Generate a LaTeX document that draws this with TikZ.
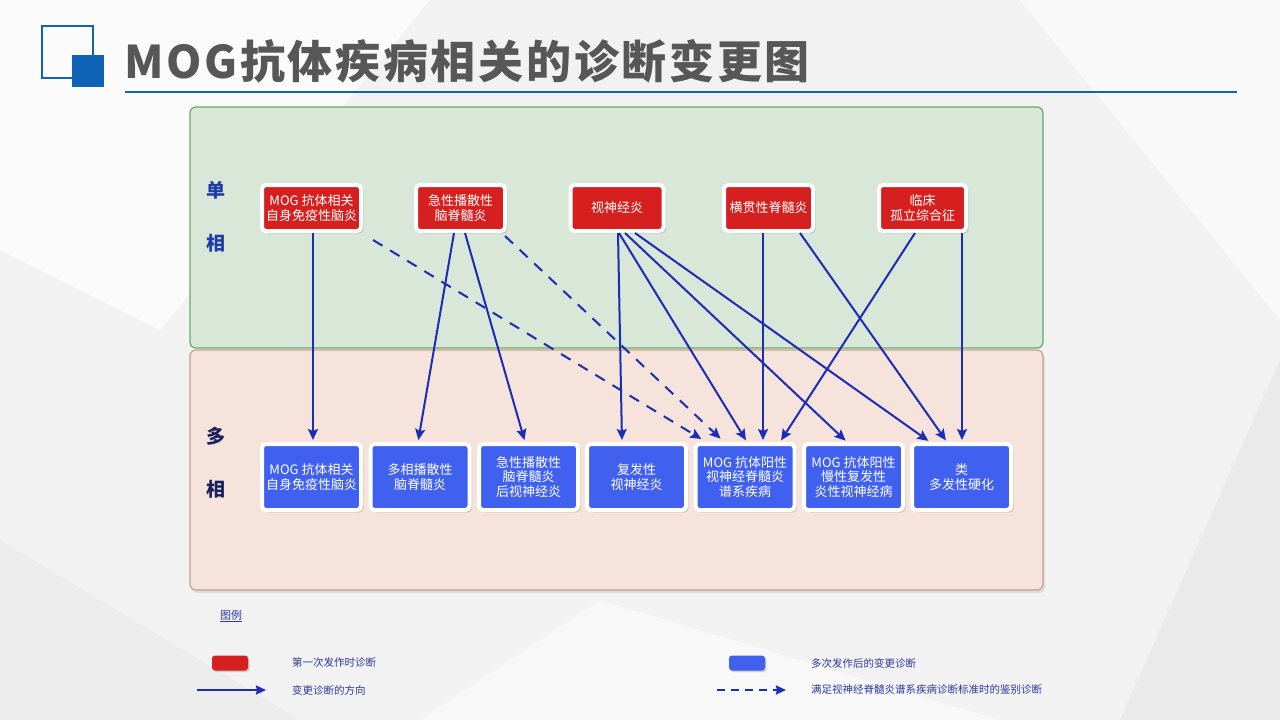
\documentclass[tikz,border=0pt]{standalone}
\usepackage{fontspec}
\setmainfont{Noto Sans CJK SC}
\usetikzlibrary{arrows.meta,shadows,calc}
\definecolor{bgcol}{HTML}{F2F2F2}
\definecolor{titleblue}{HTML}{0F62B5}
\definecolor{titlegray}{HTML}{575757}
\definecolor{greenfill}{HTML}{D8E7D8}
\definecolor{greenborder}{HTML}{62AD62}
\definecolor{pinkfill}{HTML}{F5E3DC}
\definecolor{pinkborder}{HTML}{C99E8C}
\definecolor{boxred}{HTML}{D61F1F}
\definecolor{boxblue}{HTML}{4060EF}
\definecolor{arrowblue}{HTML}{1B2DB4}
\definecolor{sideblue}{HTML}{1E3CAA}
\definecolor{sidenavy}{HTML}{1B1F5E}
\definecolor{legblue}{HTML}{2B3A9E}
\tikzset{
  boxbase/.style={rectangle, rounded corners=4pt, draw=white, line width=4pt,
    text=white, align=center, inner sep=0pt,
    font=\fontsize{13}{15}\selectfont,
    drop shadow={shadow xshift=2.5pt, shadow yshift=-2.5pt, opacity=0.3}},
  redbox/.style={boxbase, fill=boxred, minimum height=46pt},
  bluebox/.style={boxbase, fill=boxblue, minimum width=99pt, minimum height=66pt, font=\fontsize{13}{14.5}\selectfont},
  sidelab/.style={font=\fontsize{19}{21}\selectfont\bfseries, inner sep=0pt},
  arr/.style={draw=arrowblue, line width=2pt, -{Stealth[length=11pt,width=10pt,inset=2pt]}, shorten >=2pt},
  dasharr/.style={arr, dash pattern=on 11pt off 9pt},
  legtext/.style={anchor=west, text=legblue, font=\fontsize{10.5}{12}\selectfont, inner sep=0pt},
  legbox/.style={rectangle, rounded corners=3pt, minimum width=36pt, minimum height=15pt, inner sep=0pt,
    drop shadow={shadow xshift=1.5pt, shadow yshift=-1.5pt, opacity=0.35}},
}
\begin{document}
\begin{tikzpicture}[x=1pt,y=-1pt]
\useasboundingbox (0,0) rectangle (1280,720);
% background
\fill[bgcol] (0,0) rectangle (1280,720);
\fill[white,opacity=0.75] (0,0) -- (430,0) -- (160,330) -- (0,250) -- cycle;
\fill[white,opacity=0.6] (1020,0) -- (1280,0) -- (1280,320) -- cycle;
\fill[white,opacity=0.5] (600,600) -- (1000,720) -- (420,720) -- cycle;
\fill[black,opacity=0.03] (1280,360) -- (1120,720) -- (1280,720) -- cycle;
\fill[black,opacity=0.025] (0,540) -- (300,720) -- (0,720) -- cycle;
% title
\draw[titleblue, line width=2pt] (42,26) rectangle (93,78);
\fill[titleblue] (72,55) rectangle (104,87);
\node[anchor=base west, font=\fontsize{45}{50}\selectfont\bfseries\addfontfeature{LetterSpace=6}, text=titlegray, inner sep=0pt] (title) at (124,78) {MOG抗体疾病相关的诊断变更图};
\draw[titleblue, line width=1.5pt] (125,92) -- (1237,92);
% panels
\draw[greenborder, fill=greenfill, line width=1.2pt, rounded corners=6pt] (190,107) rectangle (1043,348);
\draw[pinkborder, fill=pinkfill, line width=1.2pt, rounded corners=6pt,
  drop shadow={shadow xshift=2pt, shadow yshift=-3pt, opacity=0.2}] (190,350) rectangle (1043,590);
% side labels
\node[sidelab, text=sideblue] (s1) at (216,190) {单};
\node[sidelab, text=sideblue] (s2) at (216,243) {相};
\node[sidelab, text=sidenavy] (s3) at (216,436) {多};
\node[sidelab, text=sidenavy] (s4) at (216,489) {相};
% top row
\node[redbox, minimum width=99pt] (r1) at (311.5,208) {MOG 抗体相关\\自身免疫性脑炎};
\node[redbox, minimum width=89pt] (r2) at (460.5,208) {急性播散性\\脑脊髓炎};
\node[redbox, minimum width=93pt] (r3) at (617,208) {视神经炎};
\node[redbox, minimum width=89pt] (r4) at (768.5,208) {横贯性脊髓炎};
\node[redbox, minimum width=87pt] (r5) at (922.5,208) {临床\\孤立综合征};
% bottom row
\node[bluebox] (b1) at (311.5,477) {MOG 抗体相关\\自身免疫性脑炎};
\node[bluebox] (b2) at (420,477) {多相播散性\\脑脊髓炎};
\node[bluebox] (b3) at (528.5,477) {急性播散性\\脑脊髓炎\\后视神经炎};
\node[bluebox] (b4) at (636.5,477) {复发性\\视神经炎};
\node[bluebox] (b5) at (745,477) {MOG 抗体阳性\\视神经脊髓炎\\谱系疾病};
\node[bluebox] (b6) at (853.5,477) {MOG 抗体阳性\\慢性复发性\\炎性视神经病};
\node[bluebox] (b7) at (961.5,477) {类\\多发性硬化};
% connectors
\draw[arr] ($(r1.south)+(1.5,0)$) -- ($(b1.north)+(1.5,0)$);
\draw[dasharr] ($(r1.south east)+(10,7)$) -- ($(b5.north)+(-42,-2)$);
\draw[dasharr] ($(r2.south east)+(-2,3)$) -- ($(b5.north)+(-23,-2)$);
\draw[arr] ($(r2.south)+(-6.5,0)$) -- ($(b2.north)+(-2,0)$);
\draw[arr] ($(r2.south)+(4.5,0)$) -- ($(b3.north)+(-3.5,0)$);
\draw[arr] ($(r3.south)+(1,0)$) -- ($(b4.north)+(-14.5,0)$);
\draw[arr] ($(r3.south)+(2,0)$) -- ($(b5.north)+(2,0)$);
\draw[arr] ($(r3.south)+(8,0)$) -- ($(b6.north)+(-6.5,0)$);
\draw[arr] ($(r3.south)+(18,0)$) -- ($(b7.north)+(-31.5,0)$);
\draw[arr] ($(r4.south)+(-5.5,0)$) -- ($(b5.north)+(18,0)$);
\draw[arr] ($(r4.south)+(31.5,0)$) -- ($(b7.north)+(-14.5,0)$);
\draw[arr] ($(r5.south)+(-7.5,0)$) -- ($(b5.north)+(35,0)$);
\draw[arr] ($(r5.south)+(39.5,0)$) -- ($(b7.north)+(0.5,0)$);
% legend
\node[text=legblue, font=\fontsize{11}{13}\selectfont, inner sep=0pt] (lg) at (231,616) {\underline{图例}};
\node[legbox, fill=boxred] (lr) at (230,663) {};
\node[legtext] (lt1) at (292,663) {第一次发作时诊断};
\coordinate (la1) at (197,690);
\coordinate (la2) at (268,690);
\draw[arr, line width=2pt, -{Stealth[length=10pt,width=9pt,inset=1pt]}] (la1) -- (la2);
\node[legtext] (lt2) at (292,690) {变更诊断的方向};
\node[legbox, fill=boxblue] (lb) at (747,663) {};
\node[legtext] (lt3) at (811,663) {多次发作后的变更诊断};
\coordinate (la3) at (717,690);
\coordinate (la4) at (788,690);
\draw[arr, dash pattern=on 8pt off 6pt, -{Stealth[length=10pt,width=9pt,inset=1pt]}] (la3) -- (la4);
\node[legtext] (lt4) at (811,690) {满足视神经脊髓炎谱系疾病诊断标准时的鉴别诊断};
\end{tikzpicture}
\end{document}
